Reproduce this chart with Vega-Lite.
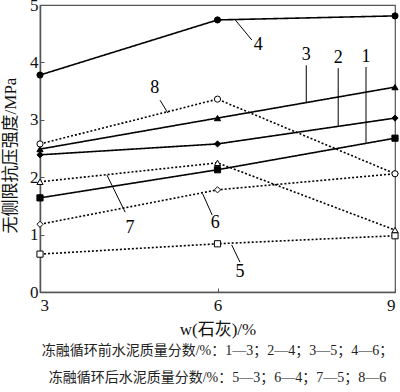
{
  "$schema": "https://vega.github.io/schema/vega-lite/v6.json",
  "width": 355,
  "height": 287,
  "autosize": {"type": "none"},
  "padding": {"left": 40, "top": 5, "right": 5, "bottom": 100},
  "background": "white",
  "config": {
    "font": "Liberation Serif, Noto Sans CJK SC",
    "view": {"stroke": "#555", "strokeWidth": 1.2},
    "axis": {
      "domainColor": "#555",
      "domainWidth": 1.5,
      "tickColor": "#555",
      "grid": false,
      "labelFont": "Liberation Serif",
      "labelFontSize": 17,
      "labelColor": "#111",
      "titleFont": "Liberation Serif, Noto Sans CJK SC",
      "titleFontWeight": "normal",
      "titleColor": "#111"
    }
  },
  "title": {
    "text": ["冻融循环前水泥质量分数/%：1—3；2—4；3—5；4—6；", "冻融循环后水泥质量分数/%：5—3；6—4；7—5；8—6"],
    "orient": "bottom",
    "anchor": "middle",
    "font": "Liberation Serif, Noto Sans CJK SC",
    "fontSize": 14,
    "fontWeight": "normal",
    "color": "#222",
    "lineHeight": 27,
    "baseline": "top",
    "offset": 7
  },
  "datasets": {
    "series": [
      {"s": "1", "x": 3, "y": 1.64, "style": "solid"},
      {"s": "1", "x": 6, "y": 2.13, "style": "solid"},
      {"s": "1", "x": 9, "y": 2.68, "style": "solid"},
      {"s": "2", "x": 3, "y": 2.39, "style": "solid"},
      {"s": "2", "x": 6, "y": 2.58, "style": "solid"},
      {"s": "2", "x": 9, "y": 3.03, "style": "solid"},
      {"s": "3", "x": 3, "y": 2.49, "style": "solid"},
      {"s": "3", "x": 6, "y": 3.03, "style": "solid"},
      {"s": "3", "x": 9, "y": 3.57, "style": "solid"},
      {"s": "4", "x": 3, "y": 3.78, "style": "solid"},
      {"s": "4", "x": 6, "y": 4.74, "style": "solid"},
      {"s": "4", "x": 9, "y": 4.81, "style": "solid"},
      {"s": "5", "x": 3, "y": 0.66, "style": "dotted"},
      {"s": "5", "x": 6, "y": 0.84, "style": "dotted"},
      {"s": "5", "x": 9, "y": 0.98, "style": "dotted"},
      {"s": "6", "x": 3, "y": 1.18, "style": "dotted"},
      {"s": "6", "x": 6, "y": 1.78, "style": "dotted"},
      {"s": "6", "x": 9, "y": 2.06, "style": "dotted"},
      {"s": "7", "x": 3, "y": 1.92, "style": "dotted"},
      {"s": "7", "x": 6, "y": 2.25, "style": "dotted"},
      {"s": "7", "x": 9, "y": 1.08, "style": "dotted"},
      {"s": "8", "x": 3, "y": 2.58, "style": "dotted"},
      {"s": "8", "x": 6, "y": 3.36, "style": "dotted"},
      {"s": "8", "x": 9, "y": 2.06, "style": "dotted"}
    ],
    "labels": [
      {"t": "4", "x": 6.69, "y": 4.30, "x1": 6.30, "y1": 4.74, "x2": 6.58, "y2": 4.39},
      {"t": "3", "x": 7.50, "y": 4.13, "x1": 7.50, "y1": 3.95, "x2": 7.50, "y2": 3.31},
      {"t": "2", "x": 8.04, "y": 4.08, "x1": 8.04, "y1": 3.90, "x2": 8.04, "y2": 2.89},
      {"t": "1", "x": 8.51, "y": 4.09, "x1": 8.51, "y1": 3.92, "x2": 8.51, "y2": 2.60},
      {"t": "8", "x": 4.94, "y": 3.55, "x1": 5.03, "y1": 3.34, "x2": 5.16, "y2": 3.12},
      {"t": "7", "x": 4.52, "y": 1.11, "x1": 4.13, "y1": 2.04, "x2": 4.44, "y2": 1.39},
      {"t": "6", "x": 5.96, "y": 1.20, "x1": 5.75, "y1": 1.71, "x2": 5.91, "y2": 1.34},
      {"t": "5", "x": 6.38, "y": 0.35, "x1": 6.24, "y1": 0.82, "x2": 6.38, "y2": 0.52}
    ]
  },
  "encoding": {
    "x": {
      "field": "x", "type": "quantitative",
      "scale": {"domain": [3, 9], "nice": false, "zero": false},
      "axis": {
        "values": [3, 6, 9], "tickSize": -4, "labelPadding": 9,
        "title": "w(石灰)/%", "titleFontSize": 17, "titleY": 37, "titleBaseline": "middle"
      }
    },
    "y": {
      "field": "y", "type": "quantitative",
      "scale": {"domain": [0, 5], "nice": false},
      "axis": {
        "values": [0, 1, 2, 3, 4, 5], "tickSize": -4, "labelPadding": 6,
        "title": "无侧限抗压强度/MPa", "titleFontSize": 17,
        "titleX": -30, "titleY": 150, "titleBaseline": "middle", "titleAngle": 270, "titleAlign": "center"
      }
    }
  },
  "layer": [
    {
      "data": {"name": "series"},
      "mark": {"type": "line", "color": "#000", "strokeWidth": 1.6},
      "encoding": {
        "detail": {"field": "s"},
        "strokeDash": {
          "field": "style", "type": "nominal",
          "scale": {"domain": ["solid", "dotted"], "range": [[1, 0], [2, 2]]},
          "legend": null
        }
      }
    },
    {
      "data": {"name": "series"},
      "mark": {"type": "point", "filled": true, "stroke": "#000", "strokeWidth": 1, "size": 38, "opacity": 1},
      "encoding": {
        "shape": {
          "field": "s", "type": "nominal",
          "scale": {"domain": ["1","2","3","4","5","6","7","8"], "range": ["square","diamond","triangle-up","circle","square","diamond","triangle-up","circle"]},
          "legend": null
        },
        "fill": {
          "field": "s", "type": "nominal",
          "scale": {"domain": ["1","2","3","4","5","6","7","8"], "range": ["#000","#000","#000","#000","#fff","#fff","#fff","#fff"]},
          "legend": null
        }
      }
    },
    {
      "data": {"name": "labels"},
      "mark": {"type": "rule", "color": "#000", "strokeWidth": 1},
      "encoding": {
        "x": {"field": "x1", "type": "quantitative"},
        "y": {"field": "y1", "type": "quantitative"},
        "x2": {"field": "x2"},
        "y2": {"field": "y2"}
      }
    },
    {
      "data": {"name": "labels"},
      "mark": {"type": "text", "font": "Liberation Serif", "fontSize": 18, "color": "#000", "baseline": "middle", "align": "center"},
      "encoding": {
        "text": {"field": "t"}
      }
    }
  ]
}
